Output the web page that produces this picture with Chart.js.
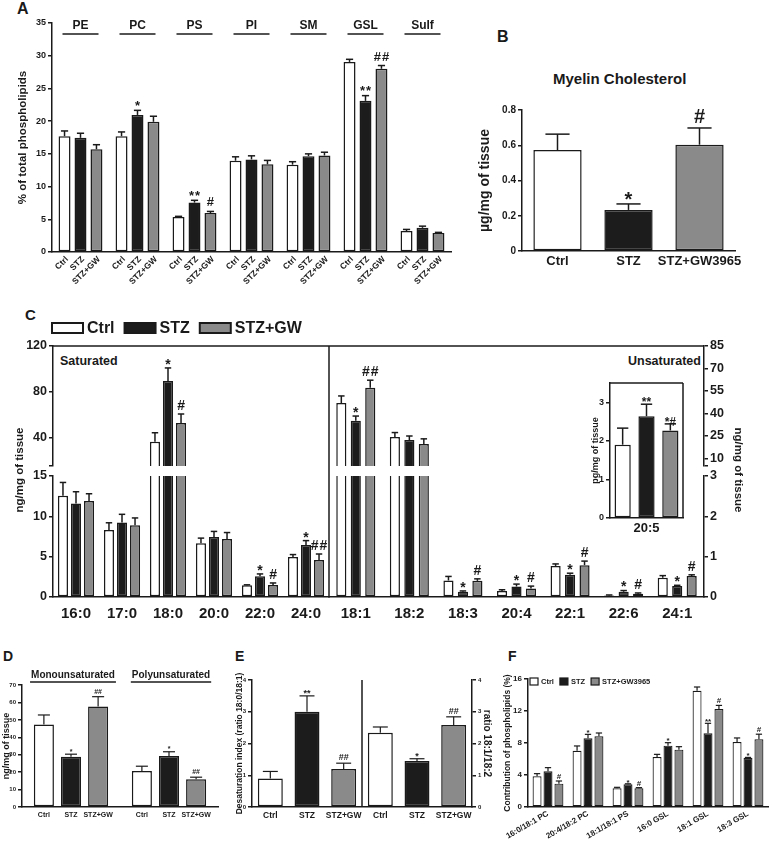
<!DOCTYPE html>
<html>
<head>
<meta charset="utf-8">
<script src="https://cdn.jsdelivr.net/npm/chart.js@4.4.1/dist/chart.umd.min.js"></script>
<style>
body { margin: 0; background: #fff; width: 769px; height: 844px; overflow: hidden; position: relative;
       font-family: "Liberation Sans", Arial, sans-serif; color: #1a1a1a; }
canvas { position: absolute; }
.t { position: absolute; font-weight: bold; white-space: nowrap; line-height: 1; }
</style>
</head>
<body>
<div class="t" style="left:17px;top:1px;font-size:16px">A</div>
<div class="t" style="left:497px;top:29px;font-size:16px">B</div>
<div class="t" style="left:25px;top:307px;font-size:15px">C</div>
<div class="t" style="left:3px;top:649px;font-size:14px">D</div>
<div class="t" style="left:235px;top:649px;font-size:14px">E</div>
<div class="t" style="left:508px;top:649px;font-size:14px">F</div>
<div class="t" style="left:553px;top:71px;font-size:15px">Myelin Cholesterol</div>
<div class="t" style="left:60px;top:355px;font-size:12.5px">Saturated</div>
<div class="t" style="left:628px;top:355px;font-size:12.5px">Unsaturated</div>

<script>
// Panel A: phospholipid classes
const treat = ['Ctrl', 'STZ', 'STZ+GW'];
const lipidClasses = ['PE', 'PC', 'PS', 'PI', 'SM', 'GSL', 'Sulf'];
const aCtrl = [17.7, 17.7, 5.35, 13.95, 13.35, 29.05, 3.2];
const aCtrlErr = [0.8, 0.65, 0.1, 0.6, 0.45, 0.4, 0.25];
const aStz = [17.45, 20.95, 7.55, 14.15, 14.65, 23.1, 3.7];
const aStzErr = [0.7, 0.7, 0.35, 0.55, 0.35, 0.8, 0.25];
const aGw = [15.7, 19.9, 5.95, 13.4, 14.75, 28.0, 2.9];
const aGwErr = [0.7, 0.85, 0.25, 0.6, 0.5, 0.5, 0.1];
const aStzSig = ['', '*', '**', '', '', '**', ''];
const aGwSig = ['', '', '#', '', '', '##', ''];

// Panel B: myelin cholesterol
const cholGroups = ['Ctrl', 'STZ', 'STZ+GW3965'];
const chol = [0.573, 0.233, 0.603];
const cholErr = [0.09, 0.034, 0.095];
const cholSig = ['', '*', '#'];

// Panel C: fatty acids
const satAcids = ['16:0', '17:0', '18:0', '20:0', '22:0', '24:0'];
const satCtrl = [12.55, 8.3, 36.3, 6.65, 1.45, 4.96];
const satCtrlErr = [1.65, 0.9, 7.8, 0.65, 0.06, 0.3];
const satStz = [11.6, 9.25, 89.4, 7.43, 2.56, 6.44];
const satStzErr = [1.45, 1.0, 11.4, 0.7, 0.3, 0.55];
const satGw = [11.9, 8.9, 52.6, 7.19, 1.49, 4.58];
const satGwErr = [0.9, 0.9, 7.9, 0.8, 0.25, 0.75];
const satStzSig = ['', '', '*', '', '*', '*'];
const satGwSig = ['', '', '#', '', '#', '##'];

const unsatAcids = ['18:1', '18:2', '18:3', '20:4', '22:1', '22:6', '24:1'];
const unsatCtrl = [47, 24.3, 0.41, 0.15, 0.77, 0.04, 0.48];
const unsatCtrlErr = [4.7, 3, 0.1, 0.03, 0.05, 0.01, 0.05];
const unsatStz = [35.2, 22.3, 0.13, 0.26, 0.55, 0.13, 0.27];
const unsatStzErr = [3.1, 2.7, 0.02, 0.06, 0.04, 0.03, 0.02];
const unsatGw = [57.2, 19.7, 0.40, 0.21, 0.79, 0.08, 0.52];
const unsatGwErr = [5, 3.4, 0.05, 0.06, 0.1, 0.02, 0.03];
const unsatStzSig = ['*', '', '*', '*', '*', '*', '*'];
const unsatGwSig = ['##', '', '#', '#', '#', '#', '#'];

const epaLabel = ['20:5'];
const epaCtrl = [1.9], epaCtrlErr = [0.43];
const epaStz = [2.64], epaStzErr = [0.31];
const epaGw = [2.27], epaGwErr = [0.17];
const epaStzSig = ['**'], epaGwSig = ['*#'];

// Panel D: mono / poly unsaturated totals
const satClasses = ['Monounsaturated', 'Polyunsaturated'];
const dCtrl = [47.4, 20.7], dCtrlErr = [5.4, 2.7];
const dStz = [28.8, 29.2], dStzErr = [1.5, 2.5];
const dGw = [57.6, 15.9], dGwErr = [5.7, 1.2];
const dStzSig = ['*', '*'], dGwSig = ['##', '##'];

// Panel E: desaturation ratios
const eLabels = ['Ctrl', 'STZ', 'STZ+GW', 'Ctrl', 'STZ', 'STZ+GW'];
const desat = [0.9, 3.0, 1.2], desatErr = [0.22, 0.5, 0.18], desatSig = ['', '**', '##'];
const ratio = [2.34, 1.45, 2.58], ratioErr = [0.18, 0.07, 0.26], ratioSig = ['', '*', '##'];

// Panel F: species contribution
const species = ['16:0/18:1 PC', '20:4/18:2 PC', '18:1/18:1 PS', '16:0 GSL', '18:1 GSL', '18:3 GSL'];
const fCtrl = [3.83, 7.04, 2.33, 6.25, 14.54, 8.13];
const fCtrlErr = [0.34, 0.59, 0.13, 0.33, 0.46, 0.5];
const fStz = [4.46, 8.58, 2.83, 7.67, 9.21, 6.13];
const fStzErr = [0.46, 0.5, 0.07, 0.37, 1.25, 0.07];
const fGw = [2.92, 8.83, 2.33, 7.17, 12.25, 8.46];
const fGwErr = [0.33, 0.42, 0.09, 0.37, 0.45, 0.64];
const fStzSig = ['', '*', '*', '*', '**', '*'];
const fGwSig = ['#', '', '#', '', '#', '#'];

const ink = '#1a1a1a';
const white = '#ffffff', black = '#1c1c1c', grey = '#8a8a8a';
const family = '"Liberation Sans", Arial, sans-serif';

Chart.defaults.font.family = family;
Chart.defaults.font.weight = 'bold';
Chart.defaults.color = ink;

function addCanvas(left, top, w, h) {
    const c = document.createElement('canvas');
    c.width = w;
    c.height = h;
    c.style.left = left + 'px';
    c.style.top = top + 'px';
    document.body.appendChild(c);
    return c;
}

// draws frame lines, error bars, marks, per-bar labels, headers and legends
const extras = {
    id: 'extras',
    afterDatasetsDraw(chart, args, o) {
        const ctx = chart.ctx, ca = chart.chartArea;
        const seg = (x1, y1, x2, y2) => { ctx.beginPath(); ctx.moveTo(x1, y1); ctx.lineTo(x2, y2); ctx.stroke(); };
        ctx.save();
        ctx.strokeStyle = ink;
        ctx.fillStyle = ink;
        ctx.lineWidth = 1.5;
        if (o.frameTop) seg(ca.left, ca.top, ca.right, ca.top);
        if (o.frameRight) seg(ca.right, ca.top, ca.right, ca.bottom + (o.frameDown || 0));
        if (o.midLine) {
            const xs = chart.scales.x;
            const x = (xs.getPixelForValue(o.midLine - 1) + xs.getPixelForValue(o.midLine)) / 2;
            seg(x, ca.top, x, ca.bottom);
        }

        chart.data.datasets.forEach((ds, i) => {
            const meta = chart.getDatasetMeta(i);
            const ys = chart.scales[meta.yAxisID];
            meta.data.forEach((bar, j) => {
                const v = ds.data[j];
                if (v == null || v > ys.max) return;
                const e = ds.errs ? (ds.errs[j] || 0) : 0;
                const top = ys.getPixelForValue(v + e);
                if (e > 0) {
                    const c = bar.width * (o.cap || 0.3);
                    ctx.lineWidth = o.errW || 1.5;
                    seg(bar.x, bar.y, bar.x, top);
                    seg(bar.x - c, top, bar.x + c, top);
                }
                const n = ds.notes ? ds.notes[j] : '';
                if (n) {
                    const size = o.noteSize || 12;
                    ctx.font = 'bold ' + size + 'px ' + family;
                    ctx.letterSpacing = (o.noteSpacing || 0) + 'px';
                    ctx.textAlign = 'center';
                    ctx.textBaseline = 'alphabetic';
                    const base = top - (o.noteGap || 3) + (n[0] === '*' ? 0.35 * size : 0);
                    ctx.fillText(n, bar.x + (o.noteSpacing || 0) / 2, base);
                    ctx.letterSpacing = '0px';
                }
            });
        });

        if (o.barLabels) {
            const bl = o.barLabels;
            ctx.font = 'bold ' + bl.size + 'px ' + family;
            chart.data.datasets.forEach((ds, i) => {
                chart.getDatasetMeta(i).data.forEach(bar => {
                    ctx.save();
                    ctx.translate(bar.x + (bl.dx || 0), ca.bottom + bl.dy);
                    if (bl.rot) {
                        ctx.rotate(-bl.rot * Math.PI / 180);
                        ctx.textAlign = 'right';
                        ctx.textBaseline = 'middle';
                    } else {
                        ctx.textAlign = 'center';
                        ctx.textBaseline = 'top';
                    }
                    ctx.fillText(ds.label, 0, 0);
                    ctx.restore();
                });
            });
        }

        if (o.heads) {
            const h = o.heads, xs = chart.scales.x;
            ctx.font = 'bold ' + h.size + 'px ' + family;
            ctx.textAlign = 'center';
            ctx.textBaseline = 'alphabetic';
            ctx.lineWidth = 1.5;
            chart.data.labels.forEach((lab, j) => {
                const x = xs.getPixelForValue(j) + (h.dx || 0);
                ctx.fillText(lab, x, ca.top + h.textY);
                const half = h.line ? h.line / 2 : ctx.measureText(lab).width / 2 + 1;
                seg(x - half, ca.top + h.lineY, x + half, ca.top + h.lineY);
            });
        }

        if (o.legend) {
            const L = o.legend;
            let x = ca.left + L.x;
            const y = ca.top + L.y;
            ctx.font = 'bold ' + L.size + 'px ' + family;
            ctx.textAlign = 'left';
            ctx.textBaseline = 'middle';
            ctx.lineWidth = L.lw;
            chart.data.datasets.forEach(ds => {
                ctx.fillStyle = ds.backgroundColor;
                ctx.fillRect(x, y - L.h / 2, L.w, L.h);
                ctx.strokeRect(x, y - L.h / 2, L.w, L.h);
                ctx.fillStyle = ink;
                ctx.fillText(ds.label, x + L.w + L.gap, y + 0.5);
                x += L.w + L.gap + ctx.measureText(ds.label).width + L.space;
            });
        }

        // axis title shared by the two halves of a broken axis
        if (o.sideTitle) {
            const s = o.sideTitle;
            const x = s.side === 'right' ? ca.right + s.dx : ca.left - s.dx;
            ctx.save();
            ctx.translate(x, ca.bottom + s.dy);
            ctx.rotate((s.side === 'right' ? 90 : -90) * Math.PI / 180);
            ctx.font = 'bold ' + s.size + 'px ' + family;
            ctx.textAlign = 'center';
            ctx.textBaseline = 'middle';
            ctx.fillText(s.text, 0, 0);
            ctx.restore();
        }
        ctx.restore();
    }
};

function yAxis(o) {
    const s = {
        position: o.pos || 'left',
        min: o.min,
        max: o.max,
        afterFit: sc => { sc.width = o.width; },
        ticks: { font: { size: o.size }, padding: 2, color: ink },
        grid: { drawOnChartArea: false, drawTicks: true, tickLength: 4, color: ink, lineWidth: 1.5 },
        border: { color: ink, width: 1.5 },
        title: { display: false }
    };
    if (o.step) s.ticks.stepSize = o.step;
    if (o.list) s.afterBuildTicks = sc => { sc.ticks = o.list.map(v => ({ value: v })); };
    if (o.hide) s.ticks.callback = v => (o.hide.includes(v) ? '' : v);
    if (o.title) {
        s.title = { display: true, text: o.title, font: { size: o.tsize }, padding: { top: o.tpad, bottom: 0 }, color: ink };
    }
    return s;
}

function xAxis(o) {
    return {
        display: o.display !== false,
        afterFit: sc => { sc.height = o.height || 0; },
        ticks: o.size
            ? { font: { size: o.size }, padding: o.pad || 3, minRotation: o.rot || 0, maxRotation: o.rot || 0, autoSkip: false, color: ink }
            : { display: false },
        grid: { display: false, drawTicks: false },
        border: { display: true, color: ink, width: 1.5 }
    };
}

function bars(label, data, errs, notes, color, extra) {
    return Object.assign({
        label: label, data: data, errs: errs, notes: notes,
        backgroundColor: color, borderColor: ink, borderWidth: 1.5, borderSkipped: false
    }, extra || {});
}

function draw(canvas, labels, datasets, scales, pad, extra) {
    return new Chart(canvas, {
        type: 'bar',
        data: { labels: labels, datasets: datasets },
        options: {
            responsive: false,
            animation: false,
            layout: { padding: pad, autoPadding: false },
            scales: scales,
            plugins: { legend: { display: false }, tooltip: { enabled: false }, extras: extra }
        },
        plugins: [extras]
    });
}

// ---- A ----
const aw = { categoryPercentage: 0.84, barPercentage: 0.75 };
draw(addCanvas(0, 0, 462, 295), lipidClasses, [
    bars(treat[0], aCtrl, aCtrlErr, null, white, aw),
    bars(treat[1], aStz, aStzErr, aStzSig, black, aw),
    bars(treat[2], aGw, aGwErr, aGwSig, grey, aw)
], {
    x: xAxis({ height: 43 }),
    y: yAxis({ min: 0, max: 35, step: 5, width: 52, size: 9, title: '% of total phospholipids', tsize: 11.5, tpad: 16 })
}, { top: 23, right: 11 }, {
    cap: 0.3, noteSize: 13, noteGap: 5, noteSpacing: 1,
    barLabels: { size: 8.5, rot: 45, dx: 2.5, dy: 6 },
    heads: { size: 12, textY: 6, lineY: 11, line: 36 }
});

// ---- B ----
draw(addCanvas(470, 45, 290, 235), cholGroups, [
    bars('Cholesterol', chol, cholErr, cholSig, [white, black, grey], { categoryPercentage: 1, barPercentage: 0.68 })
], {
    x: xAxis({ height: 29, size: 13, pad: 3 }),
    y: yAxis({ min: 0, max: 0.8, step: 0.2, width: 52, size: 10, title: 'µg/mg of tissue', tsize: 14, tpad: 6.6 })
}, { top: 65, right: 25 }, { cap: 0.25, noteSize: 20, noteGap: 5 });

// ---- C ----
const sw = { categoryPercentage: 0.85, barPercentage: 0.77 };
const uw = { categoryPercentage: 0.81, barPercentage: 0.7 };
const upper = (arr, min) => arr.map(v => (v > min ? v : null));
const up = { borderSkipped: 'start', clip: 0 };
const low = { clip: { left: 5, right: 5, top: 0, bottom: 2 } };
const cNotes = { cap: 0.32, noteSize: 14, noteGap: 4, noteSpacing: 1 };

// saturated, upper segment
draw(addCanvas(0, 315, 335, 205), satAcids, [
    bars(treat[0], upper(satCtrl, 15), satCtrlErr, null, white, Object.assign({}, sw, up)),
    bars(treat[1], upper(satStz, 15), satStzErr, satStzSig, black, Object.assign({}, sw, up)),
    bars(treat[2], upper(satGw, 15), satGwErr, satGwSig, grey, Object.assign({}, sw, up))
], {
    x: xAxis({ display: false }),
    y: yAxis({ min: 15, max: 120, list: [15, 40, 80, 120], hide: [15], width: 53, size: 12.5 })
}, { top: 31, right: 6, bottom: 54 }, Object.assign({
    frameTop: true, frameRight: true, frameDown: 10,
    legend: { x: -1, y: -18, w: 31, h: 10, gap: 4, space: 10, size: 16, lw: 2 },
    sideTitle: { text: 'ng/mg of tissue', side: 'left', dx: 33, dy: 4, size: 11.5 }
}, cNotes));

// saturated, lower segment
draw(addCanvas(0, 466, 335, 161), satAcids, [
    bars(treat[0], satCtrl, satCtrlErr, null, white, Object.assign({}, sw, low)),
    bars(treat[1], satStz, satStzErr, satStzSig, black, Object.assign({}, sw, low)),
    bars(treat[2], satGw, satGwErr, satGwSig, grey, Object.assign({}, sw, low))
], {
    x: xAxis({ height: 30, size: 15, pad: 8 }),
    y: yAxis({ min: 0, max: 15, step: 5, width: 53, size: 12.5 })
}, { top: 10, right: 6 }, Object.assign({ frameRight: true }, cNotes));

// unsaturated, upper segment
draw(addCanvas(323, 315, 427, 205), unsatAcids, [
    bars(treat[0], upper(unsatCtrl, 5), unsatCtrlErr, null, white, Object.assign({}, uw, up)),
    bars(treat[1], upper(unsatStz, 5), unsatStzErr, unsatStzSig, black, Object.assign({}, uw, up)),
    bars(treat[2], upper(unsatGw, 5), unsatGwErr, unsatGwSig, grey, Object.assign({}, uw, up))
], {
    x: xAxis({ display: false }),
    y: yAxis({ pos: 'right', min: 5, max: 85, list: [5, 10, 25, 40, 55, 70, 85], hide: [5], width: 30, size: 12.5 })
}, { top: 31, left: 6, right: 16, bottom: 54 }, Object.assign({
    frameTop: true,
    sideTitle: { text: 'ng/mg of tissue', side: 'right', dx: 34, dy: 4, size: 11.5 }
}, cNotes));

// unsaturated, lower segment
draw(addCanvas(323, 466, 411, 161), unsatAcids, [
    bars(treat[0], unsatCtrl, unsatCtrlErr, null, white, Object.assign({}, uw, low)),
    bars(treat[1], unsatStz, unsatStzErr, unsatStzSig, black, Object.assign({}, uw, low)),
    bars(treat[2], unsatGw, unsatGwErr, unsatGwSig, grey, Object.assign({}, uw, low))
], {
    x: xAxis({ height: 30, size: 15, pad: 8 }),
    y: yAxis({ pos: 'right', min: 0, max: 3, step: 1, width: 30, size: 12.5 })
}, { top: 10, left: 6 }, cNotes);

// 20:5 inset
const iw = { categoryPercentage: 0.98, barPercentage: 0.68 };
draw(addCanvas(590, 375, 100, 165), epaLabel, [
    bars(treat[0], epaCtrl, epaCtrlErr, null, white, iw),
    bars(treat[1], epaStz, epaStzErr, epaStzSig, black, iw),
    bars(treat[2], epaGw, epaGwErr, epaGwSig, grey, iw)
], {
    x: xAxis({ height: 22, size: 13, pad: 3 }),
    y: yAxis({ min: 0, max: 3.5, list: [0, 1, 2, 3], width: 20, size: 9, title: 'pg/mg of tissue', tsize: 9, tpad: 0 })
}, { top: 8, right: 7 }, { frameTop: true, frameRight: true, cap: 0.35, noteSize: 12, noteGap: 2 });

// ---- D ----
const dw = { categoryPercentage: 0.83, barPercentage: 0.74 };
draw(addCanvas(0, 660, 230, 175), satClasses, [
    bars(treat[0], dCtrl, dCtrlErr, null, white, dw),
    bars(treat[1], dStz, dStzErr, dStzSig, black, dw),
    bars(treat[2], dGw, dGwErr, dGwSig, grey, dw)
], {
    x: xAxis({ height: 28 }),
    y: yAxis({ min: 0, max: 70, step: 10, width: 22, size: 6, title: 'ng/mg of tissue', tsize: 9, tpad: 1 })
}, { top: 25, right: 12 }, {
    cap: 0.3, errW: 1.2, noteSize: 7, noteGap: 3,
    barLabels: { size: 7, dy: 5 },
    heads: { size: 10, textY: -7, lineY: -3, dx: 2 }
});

// ---- E ----
const eColors = [white, black, grey, white, black, grey];
const ew = { categoryPercentage: 1, barPercentage: 0.68, grouped: false };
draw(addCanvas(232, 660, 270, 175), eLabels, [
    bars('Desaturation', desat.concat([null, null, null]), desatErr.concat([0, 0, 0]), desatSig.concat(['', '', '']), eColors, Object.assign({ yAxisID: 'y' }, ew)),
    bars('18:1/18:2', [null, null, null].concat(ratio), [0, 0, 0].concat(ratioErr), ['', '', ''].concat(ratioSig), eColors, Object.assign({ yAxisID: 'y2' }, ew))
], {
    x: xAxis({ height: 28, size: 8.5, pad: 4 }),
    y: yAxis({ min: 0, max: 4, step: 1, width: 20, size: 6, title: 'Desaturation index (ratio 18:0/18:1)', tsize: 8.5, tpad: 3 }),
    y2: yAxis({ pos: 'right', min: 0, max: 4, step: 1, width: 30, size: 6, title: 'ratio 18:1/18:2', tsize: 10, tpad: 9 })
}, { top: 20 }, { midLine: 3, cap: 0.3, errW: 1.2, noteSize: 9, noteGap: 3 });

// ---- F ----
const fw = { categoryPercentage: 0.82, barPercentage: 0.82, borderWidth: 1.2 };
draw(addCanvas(495, 660, 274, 184), species, [
    bars('Ctrl', fCtrl, fCtrlErr, null, white, fw),
    bars('STZ', fStz, fStzErr, fStzSig, black, fw),
    bars('STZ+GW3965', fGw, fGwErr, fGwSig, grey, fw)
], {
    x: xAxis({ height: 37, size: 8, pad: 2, rot: 30 }),
    y: yAxis({ min: 0, max: 16, step: 4, width: 33, size: 8, title: 'Contribution of phospholipids (%)', tsize: 8.5, tpad: 8 })
}, { top: 19, right: 1 }, {
    cap: 0.35, errW: 1.2, noteSize: 8, noteGap: 2,
    legend: { x: 2, y: 2.5, w: 8, h: 7, gap: 3, space: 6, size: 7.5, lw: 1.2 }
});
</script>
</body>
</html>
